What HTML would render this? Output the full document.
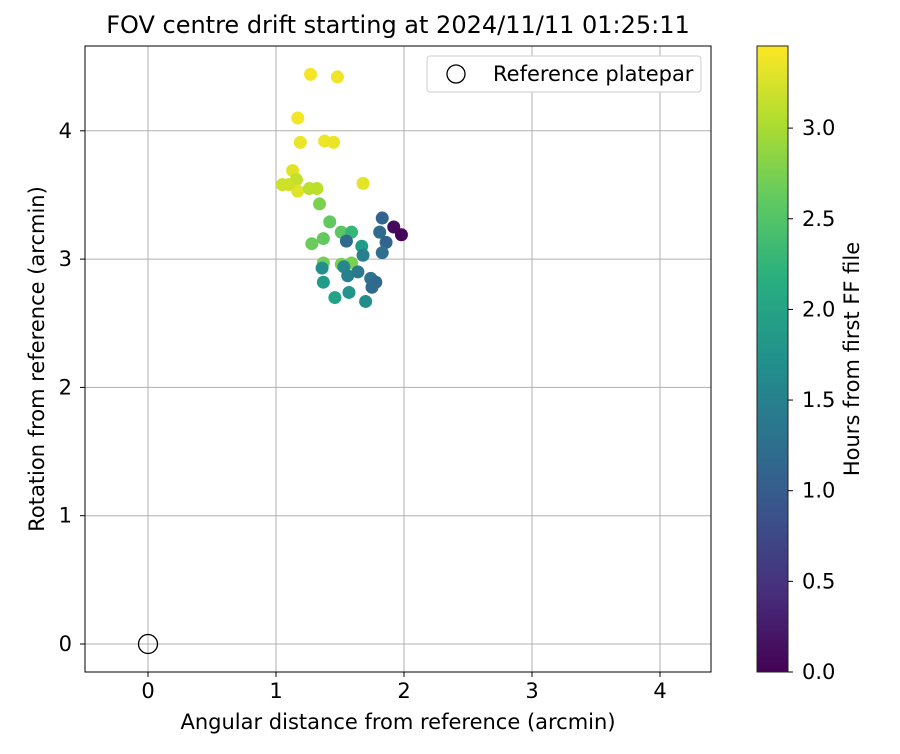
<!DOCTYPE html>
<html><head><meta charset="utf-8"><style>
body{margin:0;background:#fff;font-family:"DejaVu Sans","Liberation Sans",sans-serif}
svg text{font-family:"DejaVu Sans","Liberation Sans",sans-serif}
</style></head><body>
<svg id="chart" width="900" height="750" xmlns="http://www.w3.org/2000/svg">
<defs><linearGradient id="vir" x1="0" y1="1" x2="0" y2="0">
<stop offset="0" stop-color="#440154"/><stop offset="0.125" stop-color="#472d7b"/><stop offset="0.25" stop-color="#3b528b"/><stop offset="0.375" stop-color="#2c728e"/><stop offset="0.5" stop-color="#21918c"/><stop offset="0.625" stop-color="#28ae80"/><stop offset="0.75" stop-color="#5ec962"/><stop offset="0.875" stop-color="#addc30"/><stop offset="1" stop-color="#fde725"/>
</linearGradient></defs>
<rect width="900" height="750" fill="#fff"/>
<text x="398" y="33" font-size="24" text-anchor="middle">FOV centre drift starting at 2024/11/11 01:25:11</text>
<g id="grid"></g>
<g id="marks"></g>
<rect x="85" y="46" width="626" height="626" fill="none" stroke="#000" stroke-width="1"/>
<text x="398" y="729" font-size="21" text-anchor="middle">Angular distance from reference (arcmin)</text>
<text transform="translate(44,359) rotate(-90)" font-size="21" text-anchor="middle">Rotation from reference (arcmin)</text>
<g>
<rect x="427" y="56" width="274" height="36" rx="3" fill="#fff" stroke="#ccc"/>
<circle cx="456" cy="74" r="9" fill="none" stroke="#000" stroke-width="1.3"/>
<text x="493" y="81" font-size="21">Reference platepar</text>
</g>
<rect x="757" y="46" width="31" height="626" fill="url(#vir)" stroke="#222" stroke-width="1"/>
<g id="cbticks"></g>
<text transform="translate(859,359) rotate(-90)" font-size="21" text-anchor="middle">Hours from first FF file</text>
</svg>
<script>
const xTicks=[0,1,2,3,4];
const yTicks=[0,1,2,3,4];
const cbTicks=[0.0,0.5,1.0,1.5,2.0,2.5,3.0];
const xVals=[1.27,1.48,1.17,1.19,1.38,1.45,1.13,1.16,1.05,1.17,1.26,1.32,1.68,1.34,1.42,1.51,1.59,1.55,1.28,1.37,1.83,1.81,1.92,1.98,1.86,1.83,1.67,1.68,1.37,1.51,1.59,1.36,1.53,1.56,1.64,1.37,1.74,1.78,1.75,1.57,1.46,1.70,1.10];
const yVals=[4.44,4.42,4.10,3.91,3.92,3.91,3.69,3.62,3.58,3.53,3.55,3.55,3.59,3.43,3.29,3.21,3.21,3.14,3.12,3.16,3.32,3.21,3.25,3.19,3.13,3.05,3.10,3.03,2.97,2.96,2.97,2.93,2.94,2.87,2.90,2.82,2.85,2.82,2.78,2.74,2.70,2.67,3.58];
const tVals=[3.4,3.38,3.4,3.35,3.37,3.36,3.3,3.15,3.2,3.3,3.1,3.1,3.32,2.75,2.6,2.55,2.3,1.2,2.65,2.6,1.1,1.2,0.1,0.05,1.1,1.25,1.9,1.5,2.7,2.75,2.75,1.7,1.6,1.5,1.4,1.9,1.3,1.2,1.2,1.8,2.0,1.7,3.2];
const X0=148,XS=128,Y0=644,YS=128.3,CB0=672,CBS=181.3,TMAX=3.453;
const sx=v=>X0+v*XS, sy=v=>Y0-v*YS, sc=v=>CB0-v*CBS;
const NS='http://www.w3.org/2000/svg';
const vir=[[68,1,84],[72,40,120],[62,74,137],[49,104,142],[38,130,142],[31,158,137],[53,183,121],[110,206,88],[181,222,43],[253,231,37]];
function color(t){let f=Math.max(0,Math.min(1,t/TMAX))*9,i=Math.min(8,Math.floor(f)),r=f-i;const a=vir[i],b=vir[i+1];return 'rgb('+a.map((c,k)=>Math.round(c+(b[k]-c)*r)).join(',')+')';}
function mk(tag,attrs,parent){const e=document.createElementNS(NS,tag);for(const k in attrs)e.setAttribute(k,attrs[k]);parent.appendChild(e);return e;}
const grid=document.getElementById('grid'),marks=document.getElementById('marks'),cb=document.getElementById('cbticks');
xTicks.forEach(v=>{const x=sx(v);
 const l=mk('line',{x1:x,x2:x,y1:46,y2:672,stroke:'#b0b0b0','stroke-width':1},grid);
 
 
 mk('line',{x1:x,x2:x,y1:672,y2:677,stroke:'#000'},grid);
 const t=mk('text',{x:x,y:698,'font-size':21,'text-anchor':'middle'},grid);t.textContent=v;
 
 });
yTicks.forEach(v=>{const y=sy(v);
 const l=mk('line',{x1:85,x2:711,y1:y,y2:y,stroke:'#b0b0b0','stroke-width':1},grid);
 
 
 mk('line',{x1:80,x2:85,y1:y,y2:y,stroke:'#000'},grid);
 const t=mk('text',{x:72,y:y+7,'font-size':21,'text-anchor':'end'},grid);t.textContent=v;
 
 });
cbTicks.forEach(v=>{const y=sc(v);
 mk('line',{x1:788,x2:793,y1:y,y2:y,stroke:'#000'},cb);
 const t=mk('text',{x:802,y:y+7,'font-size':21},cb);t.textContent=v.toFixed(1);
 
 });
xVals.forEach((v,i)=>{const c=mk('circle',{cx:sx(v),cy:sy(yVals[i]),r:6.5,fill:color(tVals[i])},marks);
 
 });
const ref=mk('circle',{cx:sx(0),cy:sy(0),r:9.5,fill:'none',stroke:'#000','stroke-width':1.3},marks);


</script>
</body></html>
